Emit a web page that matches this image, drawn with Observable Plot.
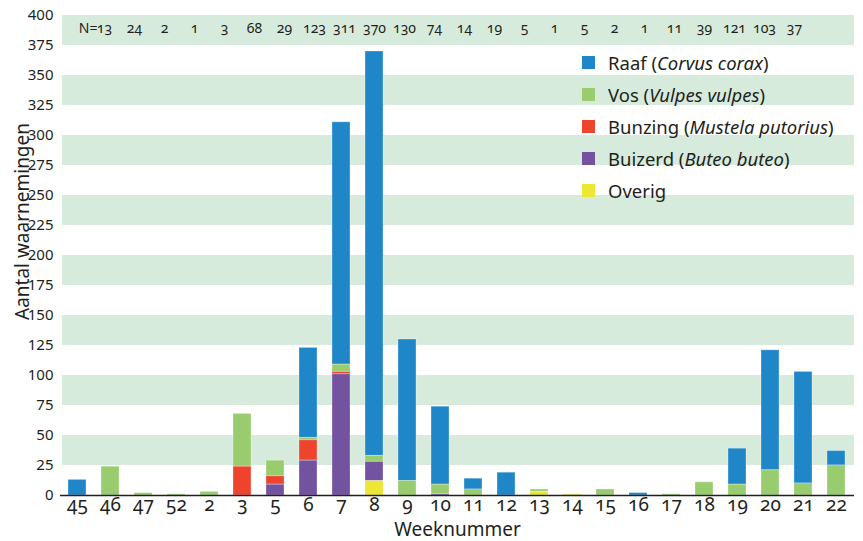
<!DOCTYPE html>
<html>
<head>
<meta charset="utf-8">
<script src="https://cdn.jsdelivr.net/npm/d3@7"></script>
<script src="https://cdn.jsdelivr.net/npm/@observablehq/plot@0.6"></script>
<style>
  body { margin: 0; background: white; }
  #wrap { position: relative; width: 863px; height: 541px; font-family: "Noto Sans", sans-serif; font-variant-numeric: oldstyle-nums; color: #231f20; }
  #wrap svg { position: absolute; left: 0; }
  #legend { position: absolute; left: 582px; top: 46px; font-size: 18.5px; }
  #legend .row { height: 32px; display: flex; align-items: center; }
  #legend .sw { width: 13px; height: 13px; margin-right: 13px; flex: none; }
</style>
</head>
<body>
<div id="wrap"></div>
<script>
const weeks   = ["45","46","47","52","2","3","5","6","7","8","9","10","11","12","13","14","15","16","17","18","19","20","21","22"];
const raaf    = [13, 0, 0, 0, 0,  0,  0, 75, 202, 337, 118, 65, 9, 19, 0, 0, 0, 2, 0,  0, 30, 100, 93, 12];
const vos     = [ 0,24, 2, 1, 3, 44, 13,  2,   6,   5,  12,  8, 5,  0, 2, 0, 5, 0, 1, 11,  9,  21, 10, 25];
const bunzing = [ 0, 0, 0, 0, 0, 24,  7, 17,   2,   0,   0,  0, 0,  0, 0, 0, 0, 0, 0,  0,  0,   0,  0,  0];
const buizerd = [ 0, 0, 0, 0, 0,  0,  9, 29, 101,  16,   0,  1, 0,  0, 0, 0, 0, 0, 0,  0,  0,   0,  0,  0];
const overig  = [ 0, 0, 0, 0, 0,  0,  0,  0,   0,  12,   0,  0, 0,  0, 3, 1, 0, 0, 0,  0,  0,   0,  0,  0];
const nTotals = [13,24,2,1,3,68,29,123,311,370,130,74,14,19,5,1,5,2,1,11,39,121,103,37];

const species      = ["Raaf", "Vos", "Bunzing", "Buizerd", "Overig"];
const speciesLatin = ["Corvus corax", "Vulpes vulpes", "Mustela putorius", "Buteo buteo", ""];
const speciesColor = ["#1f86c8", "#98cc6e", "#f0432e", "#7352a0", "#ece635"];
const stackOrder   = ["Overig", "Buizerd", "Bunzing", "Vos", "Raaf"];
const yTicks = [0,25,50,75,100,125,150,175,200,225,250,275,300,325,350,375,400];
const bandStarts = [25,75,125,175,225,275,325,375];

const series = {Raaf: raaf, Vos: vos, Bunzing: bunzing, Buizerd: buizerd, Overig: overig};
const rows = [];
weeks.forEach((w, i) => species.forEach(s => rows.push({week: w, species: s, count: series[s][i]})));

const ink = "#231f20";
const main = Plot.plot({
  width: 863, height: 541,
  marginTop: 15, marginBottom: 46, marginLeft: 60, marginRight: 9,
  style: {fontFamily: "Noto Sans", fontVariantNumeric: "oldstyle-nums", background: "white", color: ink},
  x: {domain: weeks, paddingInner: 0.44, paddingOuter: 0.22},
  y: {domain: [0, 400]},
  color: {domain: species, range: speciesColor},
  marks: [
    Plot.rect(bandStarts, {y1: d => d, y2: d => d + 25, fill: "#d7ebdc", insetLeft: 2}),
    Plot.barY(rows, {x: "week", y: "count", fill: "species", order: stackOrder, stroke: "white", strokeOpacity: 0.3, strokeWidth: 1}),
    Plot.ruleY([0], {stroke: ink, strokeWidth: 1.5}),
    Plot.axisY({ticks: yTicks, tickSize: 0, tickPadding: 7, fontSize: 15, label: null, fill: ink}),
    Plot.axisX({tickSize: 0, tickPadding: 2, fontSize: 19, label: null, fill: ink}),
    Plot.text(["Weeknummer"], {frameAnchor: "bottom", lineAnchor: "middle", dy: 34, fontSize: 19, fill: ink}),
    Plot.text(["Aantal waarnemingen"], {frameAnchor: "left", textAnchor: "middle", lineAnchor: "middle", rotate: -90, dx: -38, dy: -34, fontSize: 19, fill: ink})
  ]
});
main.style.top = "0px";

const nRows = weeks.map((w, i) => ({week: w, label: String(nTotals[i])}));
const nPlot = Plot.plot({
  width: 863, height: 30, margin: 0,
  style: {fontFamily: "Noto Sans", fontVariantNumeric: "oldstyle-nums", background: "transparent"},
  x: {type: "point", domain: weeks, range: [100, 798.6], padding: 0, axis: null},
  marks: [
    Plot.text(nRows, {x: "week", text: "label", fontSize: 14, fill: ink}),
    Plot.text(["N="], {x: () => weeks[0], textAnchor: "end", dx: -7, fontSize: 14, fill: ink})
  ]
});
nPlot.style.top = "13px";

const wrap = document.getElementById("wrap");
wrap.appendChild(main);
wrap.appendChild(nPlot);

const legend = document.createElement("div");
legend.id = "legend";
species.forEach((s, i) => {
  const row = document.createElement("div");
  row.className = "row";
  const sw = document.createElement("span");
  sw.className = "sw";
  sw.style.background = speciesColor[i];
  row.appendChild(sw);
  const t = document.createElement("span");
  t.textContent = s + (speciesLatin[i] ? " (" : "");
  row.appendChild(t);
  if (speciesLatin[i]) {
    const it = document.createElement("i");
    it.textContent = speciesLatin[i];
    it.style.whiteSpace = "pre";
    row.appendChild(it);
    const c = document.createElement("span");
    c.textContent = ")";
    row.appendChild(c);
  }
  legend.appendChild(row);
});
wrap.appendChild(legend);
</script>
</body>
</html>
